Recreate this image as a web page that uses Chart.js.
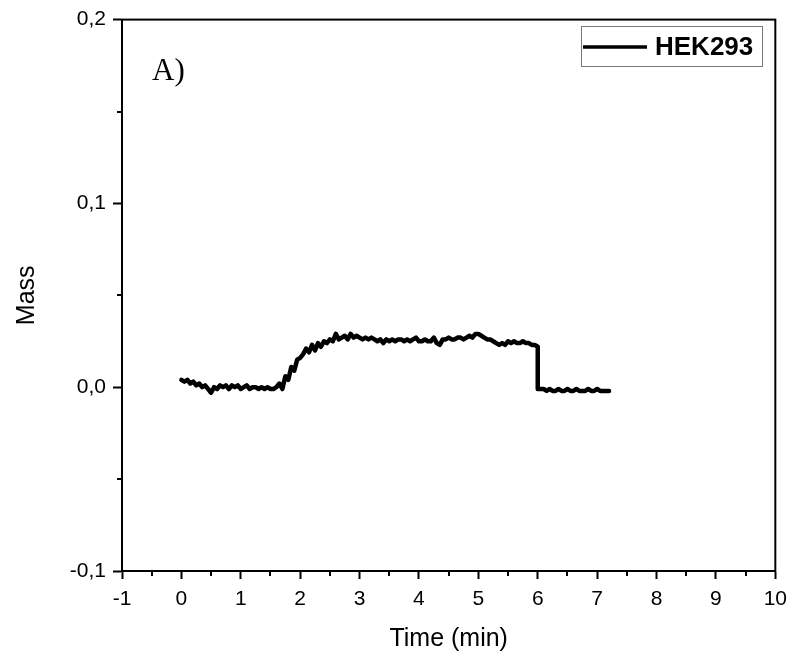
<!DOCTYPE html>
<html lang="en-US">
  <head>
    <meta charset="utf-8" />
    <title>HEK293 mass</title>
    <script src="https://cdn.jsdelivr.net/npm/chart.js@4.4.0/dist/chart.umd.min.js"></script>
    <style>
      body { margin: 0; background: #fff; }
      .wrap { width: 795px; height: 664px; }
    </style>
  </head>
  <body>
    <div class="wrap"><canvas id="chart"></canvas></div>
    <script>
      // data (time in min, mass)
      const times = [
        0.00, 0.05, 0.10, 0.15, 0.20, 0.25, 0.30, 0.35, 0.40, 0.45,
        0.50, 0.55, 0.60, 0.65, 0.70, 0.75, 0.80, 0.85, 0.90, 0.95,
        1.00, 1.05, 1.10, 1.15, 1.20, 1.25, 1.30, 1.35, 1.40, 1.45,
        1.50, 1.55, 1.60, 1.65, 1.70, 1.75, 1.80, 1.85, 1.90, 1.95,
        2.00, 2.05, 2.10, 2.15, 2.20, 2.25, 2.30, 2.35, 2.40, 2.45,
        2.50, 2.55, 2.60, 2.65, 2.70, 2.75, 2.80, 2.85, 2.90, 2.95,
        3.00, 3.05, 3.10, 3.15, 3.20, 3.25, 3.30, 3.35, 3.40, 3.45,
        3.50, 3.55, 3.60, 3.65, 3.70, 3.75, 3.80, 3.85, 3.90, 3.95,
        4.00, 4.05, 4.10, 4.15, 4.20, 4.25, 4.30, 4.35, 4.40, 4.45,
        4.50, 4.55, 4.60, 4.65, 4.70, 4.75, 4.80, 4.85, 4.90, 4.95,
        5.00, 5.05, 5.10, 5.15, 5.20, 5.25, 5.30, 5.35, 5.40, 5.45,
        5.50, 5.55, 5.60, 5.65, 5.70, 5.75, 5.80, 5.85, 5.90, 5.95,
        6.00, 6.00, 6.05, 6.10, 6.15, 6.20, 6.25, 6.30, 6.35, 6.40,
        6.45, 6.50, 6.55, 6.60, 6.65, 6.70, 6.75, 6.80, 6.85, 6.90,
        6.95, 7.00, 7.05, 7.10, 7.15, 7.20
      ];
      const mass = [
        0.004, 0.003, 0.004, 0.002, 0.003, 0.001, 0.002, 0.000, 0.001, -0.001,
        -0.003, 0.000, -0.001, 0.001, 0.000, 0.001, -0.001, 0.001, 0.000, 0.001,
        -0.001, 0.000, 0.001, -0.001, 0.000, 0.000, -0.001, 0.000, -0.001, 0.000,
        -0.001, -0.001, 0.000, 0.002, -0.001, 0.006, 0.004, 0.011, 0.009, 0.015,
        0.016, 0.018, 0.021, 0.019, 0.023, 0.020, 0.024, 0.022, 0.025, 0.024,
        0.026, 0.025, 0.029, 0.026, 0.027, 0.028, 0.026, 0.029, 0.027, 0.028,
        0.027, 0.026, 0.027, 0.026, 0.027, 0.026, 0.025, 0.026, 0.024, 0.026,
        0.025, 0.026, 0.025, 0.026, 0.026, 0.025, 0.026, 0.025, 0.026, 0.027,
        0.025, 0.025, 0.026, 0.025, 0.025, 0.027, 0.024, 0.023, 0.026, 0.026,
        0.027, 0.026, 0.026, 0.027, 0.027, 0.026, 0.027, 0.028, 0.027, 0.029,
        0.029, 0.028, 0.027, 0.026, 0.026, 0.025, 0.024, 0.023, 0.024, 0.023,
        0.025, 0.024, 0.025, 0.024, 0.024, 0.025, 0.024, 0.024, 0.023, 0.023,
        0.022, -0.001, -0.001, -0.001, -0.002, -0.001, -0.002, -0.002, -0.001, -0.002,
        -0.002, -0.001, -0.002, -0.002, -0.001, -0.002, -0.002, -0.002, -0.001, -0.002,
        -0.002, -0.001, -0.002, -0.002, -0.002, -0.002
      ];
      const seriesName = "HEK293";
      const panelLabel = "A)";
      const xTicks = [-1, 0, 1, 2, 3, 4, 5, 6, 7, 8, 9, 10];
      const yTicks = [-0.1, 0.0, 0.1, 0.2];

      const FONT = "'Liberation Sans', Arial, sans-serif";

      // frame, minor ticks, panel label and boxed legend
      const extras = {
        id: "extras",
        afterDraw(chart) {
          const ctx = chart.ctx;
          const a = chart.chartArea;
          const xs = chart.scales.x, ys = chart.scales.y;
          ctx.save();
          ctx.strokeStyle = "#000";
          ctx.lineWidth = 2;
          ctx.strokeRect(a.left, a.top, a.right - a.left, a.bottom - a.top);

          // minor ticks
          ctx.beginPath();
          for (let i = 0; i < xTicks.length - 1; i++) {
            const px = Math.round(xs.getPixelForValue(xTicks[i] + 0.5));
            ctx.moveTo(px, a.bottom);
            ctx.lineTo(px, a.bottom + 5);
          }
          for (let i = 0; i < yTicks.length - 1; i++) {
            const py = Math.round(ys.getPixelForValue(yTicks[i] + 0.05));
            ctx.moveTo(a.left, py);
            ctx.lineTo(a.left - 5, py);
          }
          ctx.stroke();

          // panel label
          ctx.fillStyle = "#000";
          ctx.font = "31px 'Liberation Serif', 'Times New Roman', serif";
          ctx.textBaseline = "alphabetic";
          ctx.textAlign = "left";
          ctx.fillText(panelLabel, a.left + 30, 80);

          // legend box
          const bx = 581, by = 26, bw = 181, bh = 40;
          ctx.strokeStyle = "#777";
          ctx.lineWidth = 1;
          ctx.strokeRect(bx + 0.5, by + 0.5, bw, bh);
          ctx.strokeStyle = "#000";
          ctx.lineWidth = 3.5;
          ctx.beginPath();
          ctx.moveTo(bx + 2, by + 21);
          ctx.lineTo(bx + 66, by + 21);
          ctx.stroke();
          ctx.font = "bold 26px " + FONT;
          ctx.textBaseline = "middle";
          ctx.fillText(seriesName, bx + 74, by + 22);
          ctx.restore();
        }
      };

      new Chart(document.getElementById("chart"), {
        type: "line",
        data: {
          datasets: [{
            label: seriesName,
            data: times.map((t, i) => ({ x: t, y: mass[i] })),
            borderColor: "#000",
            borderWidth: 4.5,
            borderJoinStyle: "round",
            borderCapStyle: "round",
            pointRadius: 0,
            tension: 0,
            fill: false
          }]
        },
        options: {
          responsive: true,
          maintainAspectRatio: false,
          animation: false,
          layout: { padding: { top: 19, right: 18, left: 0, bottom: 0 } },
          plugins: { legend: { display: false }, tooltip: { enabled: false } },
          scales: {
            x: {
              type: "linear",
              min: -1,
              max: 10,
              afterBuildTicks: s => { s.ticks = xTicks.map(v => ({ value: v })); },
              afterFit: s => { s.height = 93; },
              ticks: {
                color: "#000",
                font: { family: FONT, size: 21 },
                padding: 8,
                maxRotation: 0,
                autoSkip: false
              },
              grid: { drawOnChartArea: false, tickLength: 8, tickColor: "#000", tickWidth: 2 },
              border: { color: "#000", width: 2 },
              title: {
                display: true,
                text: "Time (min)",
                color: "#000",
                font: { family: FONT, size: 25 },
                padding: { top: 0, bottom: 10 }
              }
            },
            y: {
              min: -0.1,
              max: 0.2,
              afterBuildTicks: s => { s.ticks = yTicks.map(v => ({ value: v })); },
              afterFit: s => { s.width = 122; },
              ticks: {
                color: "#000",
                font: { family: FONT, size: 21 },
                padding: 7,
                callback: v => v.toFixed(1).replace(".", ",")
              },
              grid: { drawOnChartArea: false, tickLength: 9, tickColor: "#000", tickWidth: 2 },
              border: { color: "#000", width: 2 },
              title: {
                display: true,
                text: "Mass",
                color: "#000",
                font: { family: FONT, size: 25 },
                padding: { top: 12, bottom: 0 }
              }
            }
          }
        },
        plugins: [extras]
      });
    </script>
  </body>
</html>
